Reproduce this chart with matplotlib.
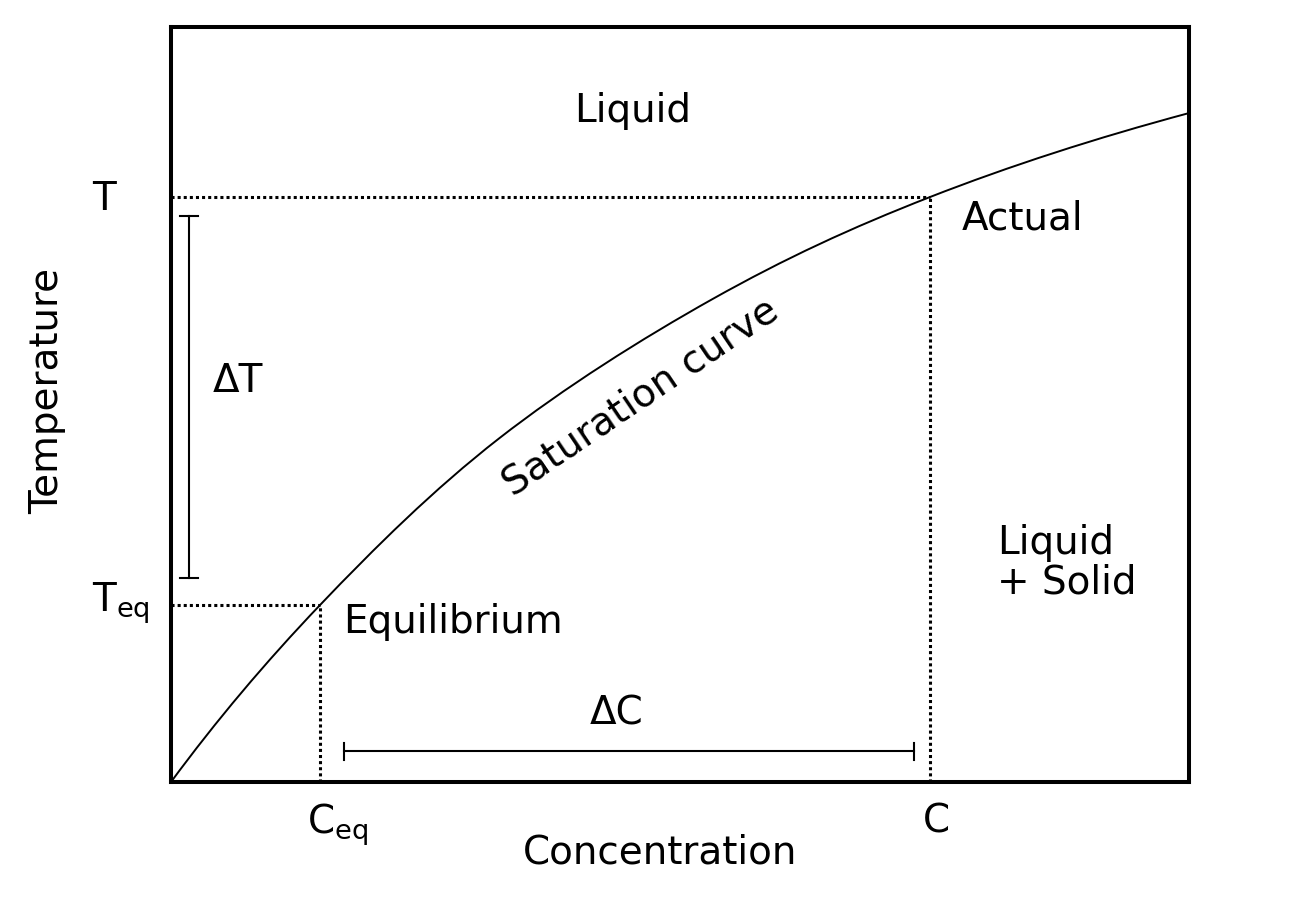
import matplotlib
matplotlib.use("Agg")
import matplotlib.pyplot as plt
from matplotlib.path import Path
from matplotlib.patches import PathPatch

# ---- data (arbitrary units, 0..100) ----
conc = [0.0, 14.64, 32.22, 53.24, 74.56, 100.0]
temp = [0.0, 23.44, 45.5, 64.0, 77.48, 88.6]
c_eq, t_eq = 14.64, 23.44     # equilibrium point
c_act, t_act = 74.56, 77.48   # actual point
dT_x, dT_lo, dT_hi = 1.77, 27.0, 74.97
dC_y, dC_lo, dC_hi = 4.1, 17.0, 73.0

W, H = 1291, 899
plt.rcParams['font.family'] = ['DejaVu Sans']
plt.rcParams['mathtext.default'] = 'regular'
fig = plt.figure(figsize=(W / 100, H / 100), dpi=100)
ax = fig.add_axes([171 / W, 1 - 782 / H, 1018 / W, 755 / H])
ax.set_xlim(0, 100)
ax.set_ylim(0, 100)
ax.set_xticks([])
ax.set_yticks([])
for s in ax.spines.values():
    s.set_linewidth(2.9)

# smooth curve through the read points (Catmull-Rom as cubic Bezier segments)
pts = list(zip(conc, temp))
n = len(pts)
tang = [None] * n
for i in range(1, n - 1):
    tang[i] = ((pts[i + 1][0] - pts[i - 1][0]) / 2, (pts[i + 1][1] - pts[i - 1][1]) / 2)
tang[0] = (2 * (pts[1][0] - pts[0][0]) - tang[1][0], 2 * (pts[1][1] - pts[0][1]) - tang[1][1])
tang[-1] = (2 * (pts[-1][0] - pts[-2][0]) - tang[-2][0], 2 * (pts[-1][1] - pts[-2][1]) - tang[-2][1])
verts = [pts[0]]
codes = [Path.MOVETO]
for i in range(n - 1):
    p1, p2 = pts[i], pts[i + 1]
    t1, t2 = tang[i], tang[i + 1]
    verts += [(p1[0] + t1[0] / 3, p1[1] + t1[1] / 3),
              (p2[0] - t2[0] / 3, p2[1] - t2[1] / 3), p2]
    codes += [Path.CURVE4] * 3
ax.add_patch(PathPatch(Path(verts, codes), facecolor='none', edgecolor='black',
                       lw=1.4, zorder=3))

dot = dict(color='black', lw=2.2, linestyle=(0, (1, 1)), dash_capstyle='butt', zorder=2)
ax.plot([0, c_act], [t_act, t_act], **dot)
ax.plot([c_act, c_act], [0, t_act], **dot)
ax.plot([0, c_eq], [t_eq, t_eq], **dot)
ax.plot([c_eq, c_eq], [0, t_eq], **dot)

# delta T bar
ax.plot([dT_x, dT_x], [dT_lo, dT_hi], color='black', lw=1.5)
capw = 0.87
for yv in (dT_lo, dT_hi):
    ax.plot([dT_x - capw, dT_x + capw], [yv, yv], color='black', lw=1.5)
# delta C bar
ax.plot([dC_lo, dC_hi], [dC_y, dC_y], color='black', lw=1.5)
caph = 1.12
for xv in (dC_lo, dC_hi):
    ax.plot([xv, xv], [dC_y - caph, dC_y + caph], color='black', lw=1.5)

FS = 28


def P(px, py):
    return (px / W, 1 - py / H)


def t(px, py, s, **kw):
    kw.setdefault('ha', 'left')
    kw.setdefault('va', 'baseline')
    fig.text(*P(px, py), s, fontsize=FS, color='black', **kw)


t(574, 121.7, 'Liquid')
t(961.7, 230, 'Actual')
t(213, 392, 'ΔT')
t(343, 633, 'Equilibrium')
t(617, 724.5, 'ΔC', ha='center')
t(997, 554, 'Liquid')
t(997, 593, '+ Solid')
t(92, 210, 'T')
t(92, 612, r'T$_{eq}$')
t(306.7, 834, r'C$_{eq}$')
t(936.5, 832.5, 'C', ha='center')
t(660, 864, 'Concentration', ha='center')
t(47.5, 391, 'Temperature', ha='center', va='center', rotation=90)
t(641, 397, 'Saturation curve', ha='center', va='center', rotation=34)

fig.savefig('out.png', dpi=100)
